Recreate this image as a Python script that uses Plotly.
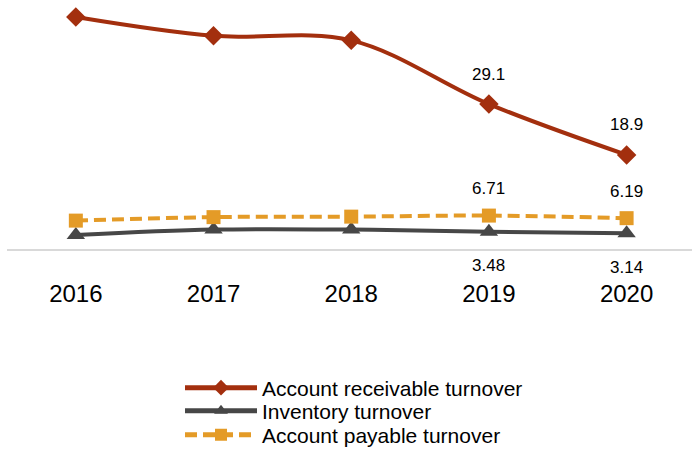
import plotly.graph_objects as go

years = ["2016", "2017", "2018", "2019", "2020"]
receivable = [46.6, 42.8, 41.9, 29.1, 18.9]
inventory = [2.8, 3.9, 3.9, 3.48, 3.14]
payable = [5.7, 6.4, 6.5, 6.71, 6.19]
receivable_labels = ["", "", "", "29.1", "18.9"]
inventory_labels = ["", "", "", "3.48", "3.14"]
payable_labels = ["", "", "", "6.71", "6.19"]

RED = "#A32F0E"
GRAY = "#474747"
ORANGE = "#E49B27"
FONT = "Liberation Sans, Arial, sans-serif"

fig = go.Figure()
fig.add_trace(go.Scatter(
    x=years, y=receivable, name="Account receivable turnover", legend="legend",
    mode="lines+markers", line=dict(color=RED, width=4, shape="spline"),
    marker=dict(symbol="diamond", size=15, color=RED), cliponaxis=False))
fig.add_trace(go.Scatter(
    x=years, y=inventory, name="Inventory turnover", legend="legend2",
    mode="lines+markers", line=dict(color=GRAY, width=4, shape="spline"),
    marker=dict(symbol="triangle-up", size=16, color=GRAY), cliponaxis=False))
fig.add_trace(go.Scatter(
    x=years, y=payable, name="Account payable turnover", legend="legend3",
    mode="lines+markers", line=dict(color=ORANGE, width=4, shape="spline", dash="12px,6px"),
    marker=dict(symbol="square", size=14, color=ORANGE), cliponaxis=False))

annotations = []
for labels, vals, shift in [(receivable_labels, receivable, 30),
                            (payable_labels, payable, 27),
                            (inventory_labels, inventory, -34)]:
    for i, (v, t) in enumerate(zip(vals, labels)):
        if t:
            annotations.append(dict(x=i, y=v, xref="x", yref="y", text=t,
                                    showarrow=False, yshift=shift,
                                    font=dict(size=17, color="#000000", family=FONT)))

def leg(ycenter):
    return dict(orientation="v", xref="container", yref="container",
                x=180 / 692, y=1 - ycenter / 450, xanchor="left", yanchor="middle",
                font=dict(size=21, color="#000000"), bgcolor="rgba(0,0,0,0)",
                itemwidth=72, itemsizing="constant")

fig.update_layout(
    width=692, height=450,
    margin=dict(l=7, r=0, t=0, b=201, autoexpand=False),
    paper_bgcolor="white", plot_bgcolor="white",
    font=dict(family=FONT, color="#000000"),
    annotations=annotations,
    xaxis=dict(type="category", range=[-0.5, 4.475], showline=True, linecolor="#D9D9D9",
               linewidth=2, showgrid=False, zeroline=False, ticks="",
               ticklabelstandoff=22, tickfont=dict(size=24, color="#000000")),
    yaxis=dict(range=[0, 50], visible=False, showgrid=False, zeroline=False),
    legend=leg(388),
    legend2=leg(411),
    legend3=leg(435),
    showlegend=True,
)

fig.write_html("out.html", config={"displayModeBar": False},
               post_script="document.body.style.margin='0';document.body.style.overflow='hidden';")
